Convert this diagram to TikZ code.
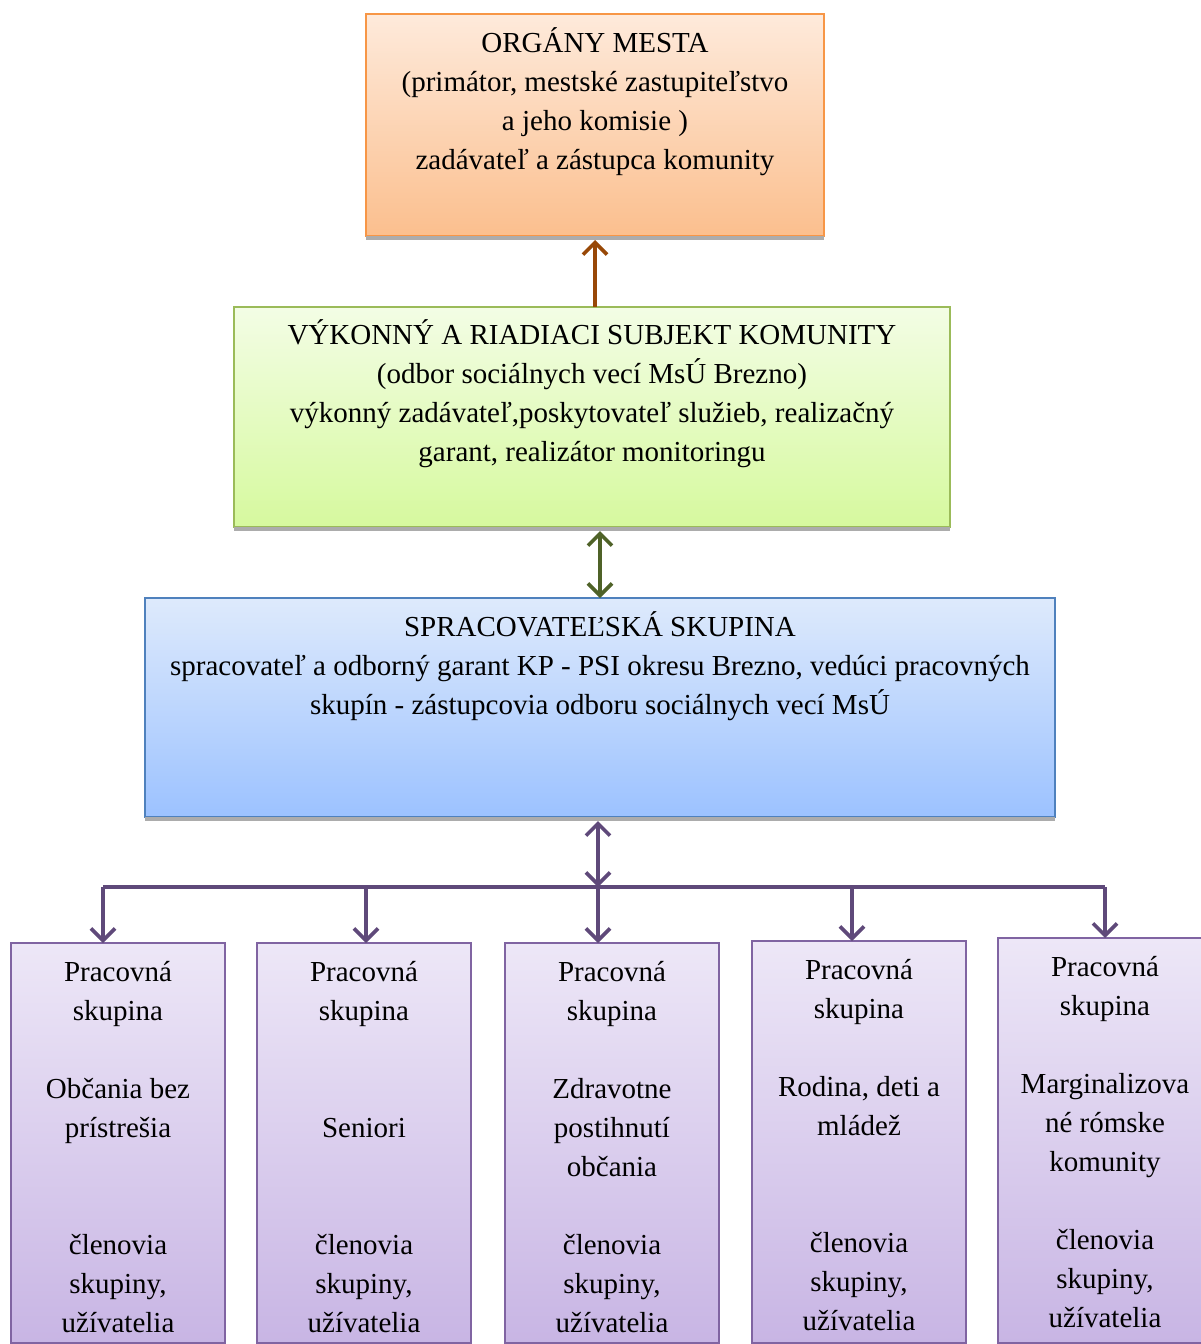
\documentclass[tikz,border=0pt]{standalone}
\usepackage{fontspec}
\setmainfont{Liberation Serif}
\usepackage{tikz}
\usetikzlibrary{positioning, arrows.meta}

\definecolor{orgline}{HTML}{F79646}
\definecolor{vykline}{HTML}{9BBB59}
\definecolor{sprline}{HTML}{4F81BD}
\definecolor{grpline}{HTML}{8064A2}
\definecolor{brownarr}{HTML}{984807}
\definecolor{greenarr}{HTML}{4F6228}
\definecolor{purplearr}{HTML}{5F497A}

\begin{document}
\begin{tikzpicture}[x=1pt, y=-1pt,
      box/.style =
         {
             rectangle, inner sep = 0pt, outer sep = 0pt, line width = 1.6pt, anchor = north west
         },
      org box/.style = {box, draw = orgline, top color = {rgb,255:red,254;green,234;blue,219}, bottom color = {rgb,255:red,251;green,191;blue,142}},
      vyk box/.style = {box, draw = vykline, top color = {rgb,255:red,243;green,253;blue,229}, bottom color = {rgb,255:red,214;green,249;blue,158}},
      spr box/.style = {box, draw = sprline, top color = {rgb,255:red,222;green,234;blue,252}, bottom color = {rgb,255:red,156;green,194;blue,255}},
      grp box/.style = {box, draw = grpline, top color = {rgb,255:red,237;green,231;blue,247}, bottom color = {rgb,255:red,200;green,181;blue,228}},
      txt/.style = {inner sep = 0pt, align = center, font = \fontsize{29}{39}\selectfont, execute at begin node = \strut},
      arr/.style = {line width = 3.6pt, -{Straight Barb[length = 12pt, width = 24pt]}},
      twoarr/.style = {line width = 3.6pt, {Straight Barb[length = 12pt, width = 24pt]}-{Straight Barb[length = 12pt, width = 24pt]}}]
      \useasboundingbox (0,0) rectangle (1201,1344);

      % three upper boxes
      \node[org box, minimum width = 458pt, minimum height = 222pt] (organy) at (366,14) {};
      \node[vyk box, minimum width = 716pt, minimum height = 220pt] (vykon) at (234,307) {};
      \node[spr box, minimum width = 910pt, minimum height = 219pt] (sprac) at (145,598) {};
      \fill[gray!65] (organy.south west) rectangle ([yshift=-4pt]organy.south east);
      \fill[gray!65] (vykon.south west) rectangle ([yshift=-4pt]vykon.south east);
      \fill[gray!65] (sprac.south west) rectangle ([yshift=-4pt]sprac.south east);

      \node[txt, below = 13pt of organy.north] (organytxt)
          {ORGÁNY MESTA\\(primátor, mestské zastupiteľstvo\\a jeho komisie )\\zadávateľ a zástupca komunity};
      \node[txt, below = 12pt of vykon.north] (vykontxt)
          {VÝKONNÝ A RIADIACI SUBJEKT KOMUNITY\\(odbor sociálnych vecí MsÚ Brezno)\\výkonný zadávateľ,poskytovateľ služieb, realizačný\\garant, realizátor monitoringu};
      \node[txt, below = 13pt of sprac.north] (sprectxt)
          {SPRACOVATEĽSKÁ SKUPINA\\spracovateľ a odborný garant KP - PSI okresu Brezno, vedúci pracovných\\skupín - zástupcovia odboru sociálnych vecí MsÚ};

      % working groups
      \node[grp box, minimum width = 214pt, minimum height = 400pt] (bezdom) at (11,943) {};
      \node[grp box, minimum width = 214pt, minimum height = 400pt] (senior) at (257,943) {};
      \node[grp box, minimum width = 214pt, minimum height = 400pt] (zdrav) at (505,943) {};
      \node[grp box, minimum width = 214pt, minimum height = 402pt] (rodina) at (752,941) {};
      \node[grp box, minimum width = 214pt, minimum height = 405pt] (romske) at (998,938) {};

      \node[txt, below = 18pt of bezdom.north] (bezdomtxt)
          {Pracovná\\skupina\\[39pt]Občania bez\\prístrešia\\[78pt]členovia\\skupiny,\\užívatelia};
      \node[txt, below = 18pt of senior.north] (seniortxt)
          {Pracovná\\skupina\\[78pt]Seniori\\[78pt]členovia\\skupiny,\\užívatelia};
      \node[txt, below = 18pt of zdrav.north] (zdravtxt)
          {Pracovná\\skupina\\[39pt]Zdravotne\\postihnutí\\občania\\[39pt]členovia\\skupiny,\\užívatelia};
      \node[txt, below = 18pt of rodina.north] (rodinatxt)
          {Pracovná\\skupina\\[39pt]Rodina, deti a\\mládež\\[78pt]členovia\\skupiny,\\užívatelia};
      \node[txt, below = 18pt of romske.north] (romsketxt)
          {Pracovná\\skupina\\[39pt]Marginalizova\\né rómske\\komunity\\[39pt]členovia\\skupiny,\\užívatelia};

      % connectors
      \draw[arr, brownarr] (organy.south |- vykon.north) -- ([yshift=-4pt]organy.south);
      \draw[twoarr, greenarr] ([yshift=-4pt]vykon.south -| sprac.north) -- (sprac.north);

      \coordinate (bus) at (598,887);
      \coordinate (busleft) at (103,887);
      \coordinate (busright) at (1105,887);
      \draw[twoarr, purplearr] ([yshift=-4pt]sprac.south -| bus) -- (bus);
      \draw[line width = 3.6pt, purplearr] (busleft) -- (busright);
      \path[arr, purplearr]
      (busleft) edge[] (busleft |- bezdom.north)
      (366,887) edge[] (366,943)
      (bus) edge[] (bus |- zdrav.north)
      (852,887) edge[] (852,941)
      (busright) edge[] (busright |- romske.north);
    \end{tikzpicture}
\end{document}
